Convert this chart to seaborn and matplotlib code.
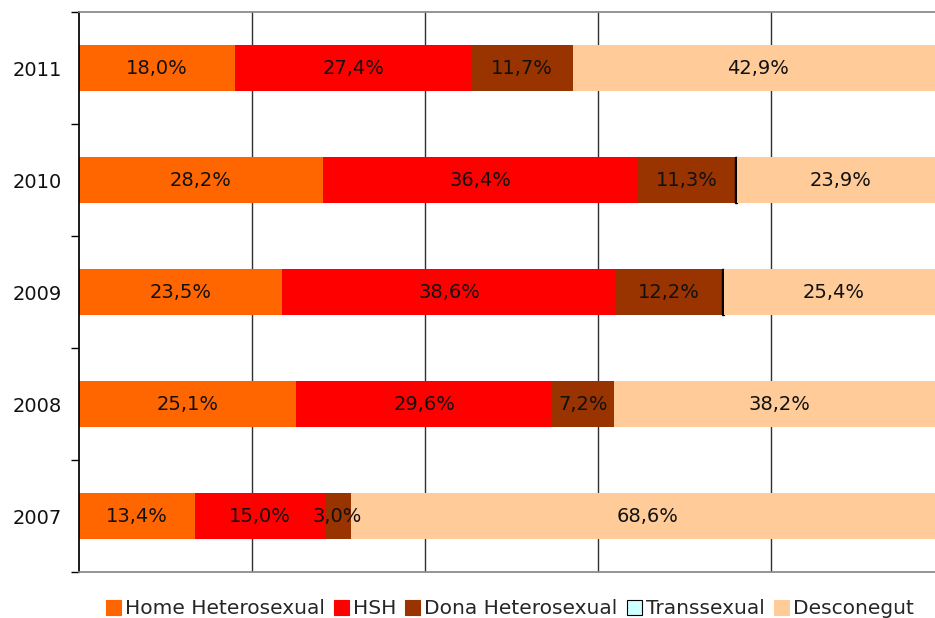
import numpy as np
import pandas as pd
import seaborn as sns
import matplotlib.pyplot as plt
from matplotlib.patches import Patch

years = ["2011", "2010", "2009", "2008", "2007"]
series = ["Home Heterosexual", "HSH", "Dona Heterosexual", "Transsexual", "Desconegut"]
home_het = [18.0, 28.2, 23.5, 25.1, 13.4]
hsh = [27.4, 36.4, 38.6, 29.6, 15.0]
dona_het = [11.7, 11.3, 12.2, 7.2, 3.0]
transsexual = [0.0, 0.2, 0.3, 0.0, 0.0]
desconegut = [42.9, 23.9, 25.4, 38.2, 68.6]

colors = ["#FF6600", "#FF0000", "#993300", "#CCFFFF", "#FFCC99"]

df = pd.DataFrame({"year": years, "Home Heterosexual": home_het, "HSH": hsh,
                   "Dona Heterosexual": dona_het, "Transsexual": transsexual,
                   "Desconegut": desconegut})

sns.set_theme(style="white")
plt.rcParams['font.family'] = ['DejaVu Sans']

fig = plt.figure(figsize=(9.35, 6.18), dpi=100)
ax = fig.add_axes([0.0845, 0.0744, 0.925, 0.9061])

left = np.zeros(len(years))
for name, col in zip(series, colors):
    vals = df[name].to_numpy()
    if name == "Transsexual":
        # tiny segments: drawn dark, as in the original
        sns.barplot(data=df, y="year", x=name, order=years, orient="h", width=0.41,
                    color="black", left=left, ax=ax, linewidth=0, saturation=1)
        for p, v in zip(ax.containers[-1], vals):
            if v > 0:
                p.set_linewidth(1.0)
                p.set_edgecolor("black")
    else:
        sns.barplot(data=df, y="year", x=name, order=years, orient="h", width=0.41,
                    color=col, left=left, ax=ax, linewidth=0, saturation=1)
        cont = ax.containers[-1]
        labels = [f"{v:.1f}%".replace(".", ",") for v in vals]
        ax.bar_label(cont, labels=labels, label_type="center", fontsize=14, color="#111111")
    left = left + vals

ax.set_xlim(0, 100)
ax.set_ylim(4.5, -0.5)
ax.set_xlabel("")
ax.set_ylabel("")
ax.set_xticks([20, 40, 60, 80])
ax.set_xticklabels([])
ax.tick_params(axis="x", length=0)
ax.grid(axis="x", color="#303030", linewidth=1)
ax.set_axisbelow(True)
ax.tick_params(axis="y", which="major", length=0, pad=12, labelsize=14, labelcolor="#111111")
ax.set_yticks(np.arange(-0.5, 5, 1), minor=True)
ax.tick_params(axis="y", which="minor", length=6, width=1, color="black", direction="out", left=True)
for s in ["top", "bottom"]:
    ax.spines[s].set_color("#888888")
ax.spines["left"].set_color("black")
ax.spines["right"].set_visible(False)

handles = [Patch(facecolor=c, edgecolor=("black" if n == "Transsexual" else c), linewidth=0.8)
           for n, c in zip(series, colors)]
fig.legend(handles, series, loc="center", bbox_to_anchor=(0.545, 0.015), ncol=5,
           frameon=False, fontsize=14.5, handlelength=0.75, handleheight=0.75,
           handletextpad=0.2, columnspacing=0.45)

fig.savefig("out.png", dpi=100)
